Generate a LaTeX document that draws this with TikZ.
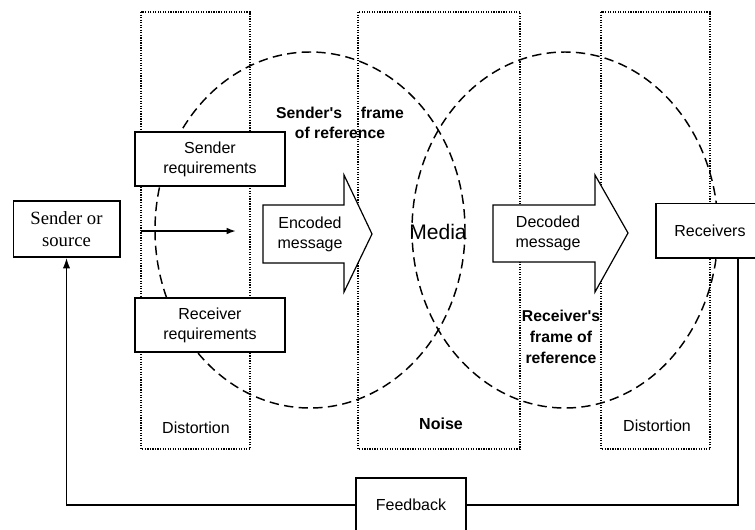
\documentclass[tikz,border=0pt]{standalone}
\usepackage{fontspec}
\setmainfont{Liberation Sans}
\newfontfamily\seriffam{Liberation Serif}
\usetikzlibrary{arrows.meta}

\tikzset{
  zone/.style={densely dotted, line width=0.9pt},
  refframe/.style={dash pattern=on 7pt off 4pt, line width=1.1pt},
  msgbox/.style={draw, line width=1pt, fill=white, align=center, inner sep=0pt,
    font=\fontsize{12}{15}\selectfont},
  blockarrow/.style={draw, line width=0.9pt, fill=white},
  plaintext/.style={align=center, font=\fontsize{12}{15}\selectfont},
  boldtext/.style={align=center, font=\fontsize{11.8}{15.5}\selectfont\bfseries},
  link/.style={line width=1.3pt},
}

\begin{document}
\begin{tikzpicture}[x=0.75pt,y=0.75pt,yscale=-1,xscale=1]
\useasboundingbox (0,0) rectangle (755,529);

%Dotted zones
\draw[zone] (141,12) rectangle (250,449);
\draw[zone] (358,12) rectangle (520,449);
\draw[zone] (601,12) rectangle (710,449);

%Frames of reference
\draw[refframe] (310,230) ellipse [x radius=155, y radius=178];
\draw[refframe] (565,230) ellipse [x radius=153, y radius=178];

%Block arrows
\draw[blockarrow] (263,205) -- (344,205) -- (344,175) -- (372,234) -- (344,292) -- (344,263) -- (263,263) -- cycle;
\draw[blockarrow] (493,205) -- (595,205) -- (595,175) -- (628,233) -- (595,292) -- (595,262) -- (493,262) -- cycle;

% Boxes
\node[msgbox, minimum width=80pt, minimum height=42pt,
  font=\seriffam\fontsize{14}{16.5}\selectfont] (sender) at (66.5,229) {Sender or\\source};
\node[msgbox, minimum width=112.5pt, minimum height=40.5pt] (sendreq) at (210,159) {Sender\\requirements};
\node[msgbox, minimum width=112.5pt, minimum height=40.5pt] (recvreq) at (210,325) {Receiver\\requirements};
\node[msgbox, minimum width=81pt, minimum height=41pt] (recv) at (710,230.5) {Receivers};
\node[msgbox, minimum width=82.5pt, minimum height=40.5pt] (fb) at (411,505) {Feedback};

% Text Node
\node[plaintext] (enc) at (310,234) {Encoded\\message};
% Text Node
\node[plaintext] (dec) at (548,233) {Decoded\\message};
% Text Node
\node[font=\fontsize{15.8}{18}\selectfont] (media) at (438,232) {Media};
% Text Node
\node[boldtext] (sframe) at (340,123) {Sender\textquotesingle s\hspace{1.2em}frame\\of reference};
% Text Node
\node[boldtext] (rframe) at (561,337) {Receiver\textquotesingle s\\frame of\\reference};
% Text Node
\node[plaintext] (dist1) at (196,428) {Distortion};
% Text Node
\node[boldtext, font=\fontsize{12}{15}\selectfont\bfseries] (noise) at (441,424) {Noise};
% Text Node
\node[plaintext] (dist2) at (657,426) {Distortion};

%Connectors
\coordinate (feed) at (141,231);
\coordinate (feedend) at (236,231);
\draw[link, -{Latex[length=7pt,width=5pt]}] (feed) -- (feedend);
\draw[link] (recv.-45) |- (fb.east);
\draw[link, -{Latex[length=8pt,width=5.5pt]}] (fb.west) -| (sender.south);

\end{tikzpicture}
\end{document}
